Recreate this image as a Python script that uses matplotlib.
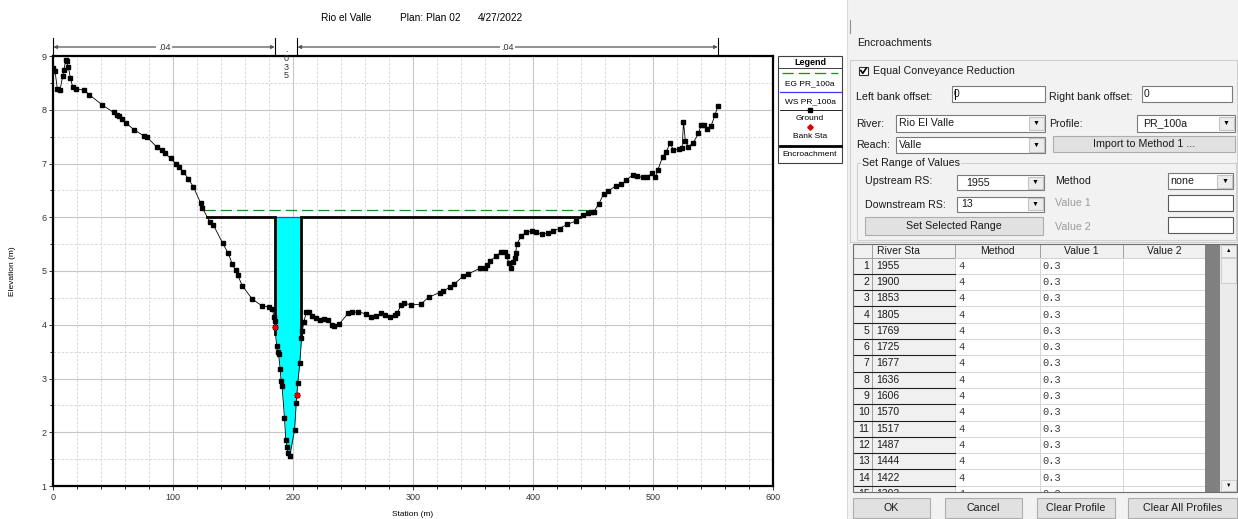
import numpy as np
import matplotlib
matplotlib.use("Agg")
import matplotlib.pyplot as plt
from matplotlib.patches import Rectangle
from matplotlib.transforms import blended_transform_factory

plt.rcParams["font.family"] = ["Liberation Sans", "DejaVu Sans"]

# ground profile (station m, elevation m)
station = [0.0, 1.4, 3.4, 5.6, 7.8, 8.9, 10.3, 11.1, 12.5, 14.2, 16.1, 18.6, 25.6, 30.0,
           40.8, 50.3, 53.3, 55.0, 57.2, 60.8, 67.2, 75.8, 77.8, 86.1, 90.3, 93.0, 97.8,
           102.0, 104.7, 108.3, 112.5, 116.7, 122.8, 124.2, 130.6, 133.4, 141.2, 145.9,
           149.2, 152.0, 153.7, 157.5, 165.8, 174.2, 180.0, 182.8, 183.9, 184.5, 184.7,
           186.4, 187.0, 187.9, 189.2, 190.0, 190.8, 192.8, 193.9, 195.0, 195.6, 197.2,
           201.2, 202.6, 203.1, 203.9, 205.6, 207.0, 207.8, 208.9, 211.1, 213.0, 215.6,
           218.9, 222.2, 225.6, 229.5, 232.2, 233.9, 238.3, 245.8, 249.4, 254.2, 261.1,
           265.3, 268.9, 273.6, 277.0, 280.6, 284.7, 286.7, 290.3, 292.2, 298.6, 306.4,
           313.0, 322.2, 325.0, 330.6, 333.9, 341.7, 345.8, 355.6, 359.7, 361.7, 364.5,
           369.5, 373.6, 376.4, 378.3, 380.0, 382.0, 383.3, 384.7, 385.6, 386.7, 390.3,
           394.5, 399.5, 402.8, 407.8, 412.5, 416.7, 422.2, 428.7, 436.1, 441.7, 445.9,
           448.6, 450.8, 455.0, 458.9, 462.5, 469.5, 473.6, 477.8, 483.4, 487.0, 491.7,
           495.0, 499.5, 502.2, 504.2, 508.3, 511.2, 514.5, 517.2, 522.2, 524.5, 525.6,
           527.2, 529.7, 533.9, 538.1, 540.3, 543.0, 545.6, 548.6, 551.9, 554.2]
elevation = [8.77, 8.73, 8.38, 8.37, 8.62, 8.74, 8.93, 8.90, 8.80, 8.60, 8.43, 8.38, 8.37, 8.28,
             8.09, 7.95, 7.90, 7.88, 7.82, 7.75, 7.63, 7.51, 7.50, 7.31, 7.25, 7.19, 7.10,
             7.00, 6.94, 6.85, 6.72, 6.57, 6.27, 6.18, 5.91, 5.86, 5.52, 5.33,
             5.13, 5.01, 4.93, 4.73, 4.48, 4.35, 4.33, 4.30, 4.14, 4.07, 3.95,
             3.60, 3.50, 3.46, 3.18, 2.96, 2.86, 2.27, 1.86, 1.73, 1.62, 1.56,
             2.04, 2.55, 2.69, 2.92, 3.29, 3.75, 3.89, 4.05, 4.24, 4.24, 4.16,
             4.12, 4.08, 4.10, 4.09, 3.99, 3.97, 4.01, 4.21, 4.23, 4.24, 4.20,
             4.14, 4.17, 4.21, 4.19, 4.14, 4.19, 4.22, 4.37, 4.40, 4.37, 4.38,
             4.51, 4.60, 4.62, 4.70, 4.75, 4.90, 4.94, 5.05, 5.05, 5.11, 5.19,
             5.28, 5.36, 5.35, 5.27, 5.14, 5.05, 5.17, 5.25, 5.34, 5.51, 5.65,
             5.73, 5.74, 5.72, 5.68, 5.71, 5.75, 5.79, 5.87, 5.93, 6.04, 6.07,
             6.09, 6.10, 6.25, 6.43, 6.48, 6.59, 6.61, 6.69, 6.79, 6.76, 6.74,
             6.75, 6.82, 6.74, 6.88, 7.13, 7.22, 7.38, 7.25, 7.27, 7.28, 7.78,
             7.41, 7.31, 7.39, 7.56, 7.72, 7.72, 7.65, 7.70, 7.90, 8.07]

bank_sta = [184.7, 203.1]
bank_elev = [3.95, 2.69]
ws_elev = 6.0
eg_elev = 6.13
encr_sta = [185.3, 207.0]
mann_sta = [0.0, 184.7, 203.6, 554.2]
mann_n = [".04", ".035", ".04"]

# encroachment editor table
row_no = ["1", "2", "3", "4", "5", "6", "7", "8", "9", "10", "11", "12", "13", "14", "15"]
river_sta = ["1955", "1900", "1853", "1805", "1769", "1725", "1677", "1636", "1606",
             "1570", "1517", "1487", "1444", "1422", "1393"]
method = ["4", "4", "4", "4", "4", "4", "4", "4", "4", "4", "4", "4", "4", "4", "4"]
value1 = ["0.3", "0.3", "0.3", "0.3", "0.3", "0.3", "0.3", "0.3", "0.3", "0.3", "0.3",
          "0.3", "0.3", "0.3", "0.3"]

W, H = 1238, 519
fig = plt.figure(figsize=(W / 100, H / 100), dpi=100)
fig.patch.set_facecolor("white")

ax = fig.add_axes([53.3 / W, 1 - 486 / H, (772.7 - 53.3) / W, 430 / H])
ax.set_xlim(0, 600)
ax.set_ylim(1, 9)
ax.set_xticks(np.arange(0, 601, 100))
ax.set_xticks(np.arange(0, 601, 20), minor=True)
ax.set_yticks(np.arange(1, 10, 1))
ax.set_yticks(np.arange(1, 9.01, 0.5), minor=True)
ax.grid(which="major", color="#c6c6c6", lw=0.8)
ax.grid(which="minor", color="#d2d2d2", lw=0.6, ls=(0, (3, 2)))
ax.set_axisbelow(True)
for sp in ax.spines.values():
    sp.set_linewidth(1.6)
ax.tick_params(labelsize=6.5, length=3, width=0.7, pad=2, colors="#333333")
ax.tick_params(which="minor", length=2, width=0.6)

# overlay in pixel units for the texts around the chart and the dialog
ov = fig.add_axes([0, 0, 1, 1])
ov.set_xlim(0, W)
ov.set_ylim(H, 0)
ov.set_autoscale_on(False)
ov.axis("off")
ov.set_zorder(2)

sta = np.array(station)
elev = np.array(elevation)


def crossings(level):
    xs = []
    for i in range(len(sta) - 1):
        e0, e1 = elev[i], elev[i + 1]
        if (e0 - level) * (e1 - level) <= 0 and e0 != e1:
            xs.append(sta[i] + (level - e0) * (sta[i + 1] - sta[i]) / (e1 - e0))
    return xs[0], xs[-1]


# water between the encroachments
inside = (sta > encr_sta[0]) & (sta < encr_sta[1])
wx = np.concatenate([[encr_sta[0]], sta[inside], [encr_sta[1]]])
wy = np.interp(wx, sta, elev)
ax.fill_between(wx, wy, ws_elev, color="#00ffff", lw=0, zorder=2)
ax.plot(encr_sta, [ws_elev, ws_elev], color="#3a3aff", lw=0.9, zorder=2.5)

eg_l, eg_r = crossings(eg_elev)
ax.plot([eg_l, eg_r], [eg_elev, eg_elev], color="#1e8c1e", lw=0.9,
        ls=(0, (9, 4)), zorder=2.5)

ax.plot(sta, elev, color="black", lw=0.6, marker="s", ms=3.2, zorder=3)

ws_l, ws_r = crossings(ws_elev)
g_l = np.interp(encr_sta[0], sta, elev)
g_r = np.interp(encr_sta[1], sta, elev)
ax.plot([ws_l, encr_sta[0], encr_sta[0]], [ws_elev, ws_elev, g_l], color="black",
        lw=2.0, zorder=4, solid_joinstyle="miter")
ax.plot([encr_sta[1], encr_sta[1], ws_r], [g_r, ws_elev, ws_elev], color="black",
        lw=2.0, zorder=4, solid_joinstyle="miter")

ax.plot(bank_sta, bank_elev, ls="none", marker="D", ms=2.8, color="#e00000", zorder=5)

# titles and axis labels
ov.text(321, 18, "Rio el Valle", fontsize=7.3, va="center")
ov.text(400, 18, "Plan: Plan 02", fontsize=7.3, va="center")
ov.text(478, 18, "4/27/2022", fontsize=7.3, va="center")
ov.text(413, 514, "Station (m)", fontsize=6, ha="center", va="center")
ov.text(13, 271, "Elevation (m)", fontsize=6, ha="center", va="center", rotation=90)

# manning's n bars above the plot
tr = blended_transform_factory(ax.transData, ov.transData)
for s in mann_sta:
    ov.plot([s, s], [38, 56], transform=tr, color="black", lw=0.8, clip_on=False)
for k, n in enumerate(mann_n):
    a, b = mann_sta[k], mann_sta[k + 1]
    m = (a + b) / 2
    if k == 1:
        ov.text(m, 51.5, ".", transform=tr, fontsize=6.5, ha="center", va="baseline",
                color="#333333")
        for j, ch in enumerate(n[1:]):
            ov.text(m, 58.6 + j * 8.6, ch, transform=tr, fontsize=6.5, ha="center",
                    va="center", color="#333333")
        continue
    for end in (a, b):
        ov.annotate("", xy=(end, 47), xytext=(m, 47), xycoords=tr, textcoords=tr,
                    arrowprops=dict(arrowstyle="-|>", color="#555555", lw=0.9,
                                    mutation_scale=5, shrinkA=0, shrinkB=0))
    ov.text(m, 47.5, n, transform=tr, fontsize=6.5, ha="center", va="center",
            color="#333333", bbox=dict(fc="white", ec="none", pad=1.2))

# legend box
ov.add_patch(Rectangle((778.3, 56), 63.4, 106.7, fc="white", ec="#404040", lw=0.8, zorder=3))
ov.text(810, 62.5, "Legend", fontsize=6.5, fontweight="bold", ha="center", va="center", zorder=4)
ov.plot([778.3, 841.7], [68.3, 68.3], color="#404040", lw=0.7, zorder=4)
ov.plot([781.7, 838], [73.3, 73.3], color="#1e8c1e", lw=0.9, ls=(0, (9, 4)), zorder=4)
ov.text(810, 83.3, "EG PR_100a", fontsize=6, ha="center", va="center", zorder=4)
ov.plot([779.5, 840.5], [91.7, 91.7], color="#3a3aff", lw=0.9, zorder=4)
ov.text(810, 101.7, "WS PR_100a", fontsize=6, ha="center", va="center", zorder=4)
ov.plot([779.5, 840.5], [110, 110], color="black", lw=0.6, zorder=4)
ov.plot([810], [110], marker="s", ms=3.2, color="black", zorder=4)
ov.text(810, 118.3, "Ground", fontsize=6, ha="center", va="center", zorder=4)
ov.plot([810], [126.7], marker="D", ms=2.8, color="#e00000", zorder=4)
ov.text(810, 136, "Bank Sta", fontsize=6, ha="center", va="center", zorder=4)
ov.plot([779.5, 840.5], [145.7, 145.7], color="black", lw=2.0, zorder=4)
ov.text(810, 154, "Encroachment", fontsize=6, ha="center", va="center", zorder=4)

# ---------------- encroachment dialog ----------------
BG = "#f2f2f2"
FS = 7.7


def box(x0, y0, x1, y1, fc="white", ec="#a0a0a0", lw=0.8, z=2):
    ov.add_patch(Rectangle((x0, y0), x1 - x0, y1 - y0, facecolor=fc, edgecolor=ec,
                           linewidth=lw, zorder=z))


def label(x, y, s, size=FS, color="#1a1a1a", ha="left", z=3, **kw):
    ov.text(x, y, s, fontsize=size, color=color, ha=ha, va="center", zorder=z, **kw)


def combo(x0, y0, x1, y1, s, tx):
    box(x0, y0, x1, y1, fc="white", ec="#7a7a7a")
    box(x1 - 16, y0 + 1.5, x1 - 1.5, y1 - 1.5, fc="#ececec", ec="#c4c4c4")
    ov.text(x1 - 8.7, (y0 + y1) / 2, "\u25bc", fontsize=5, ha="center", va="center", zorder=3)
    label(tx, (y0 + y1) / 2, s)


def button(x0, y0, x1, y1, s, z=2):
    box(x0, y0, x1, y1, fc="#e1e1e1", ec="#adadad", z=z)
    label((x0 + x1) / 2, (y0 + y1) / 2, s, ha="center", z=z + 1)


box(847, -1, W + 1, H + 1, fc=BG, ec="none", z=1)
ov.plot([847, 847], [0, H], color="#dcdcdc", lw=0.8, zorder=1.5)
ov.plot([850, 850], [20, 33], color="#909090", lw=0.8, zorder=2)
label(856.7, 43.5, "Encroachments")

# outer frame
box(850, 60, 1237, 242, fc="none", ec="#cfcfcf", lw=0.8)
box(859.3, 66.7, 867.5, 75, fc="white", ec="#333333", lw=0.8)
ov.plot([860.8, 862.8, 866.2], [70.5, 73.3, 68.2], color="black", lw=1.2, zorder=3)
label(873.3, 71.2, "Equal Conveyance Reduction")

label(856, 96.5, "Left bank offset:")
box(951.7, 86, 1045, 101.7, fc="white", ec="#7a7a7a")
ov.plot([955, 955], [89, 99], color="black", lw=0.8, zorder=3)
label(954, 94, "0", size=7.5)
label(1049.3, 96.5, "Right bank offset:")
box(1141.7, 86, 1232, 101.7, fc="white", ec="#7a7a7a")
label(1143.5, 94, "0", size=7.5)

label(856, 124, "River:")
combo(896, 115, 1045, 131.7, "Rio El Valle", 899)
label(1049.3, 124, "Profile:")
combo(1136.7, 115, 1235, 131.7, "PR_100a", 1143)
label(856, 145, "Reach:")
combo(896, 136.7, 1045, 153.3, "Valle", 899)
button(1053.3, 136, 1235, 151.7, "Import to Method 1 ...")

box(857.3, 163.3, 1236, 240, fc="none", ec="#cfcfcf", lw=0.8)
label(862, 163.3, "Set Range of Values", bbox=dict(fc=BG, ec="none", pad=0.5))
label(865, 181.5, "Upstream RS:")
combo(956.7, 175, 1044, 190, "1955", 966.7)
label(1055, 180.5, "Method")
combo(1168.3, 173.3, 1233.3, 189.3, "none", 1170.5)
label(865, 204.5, "Downstream RS:")
combo(956.7, 196.7, 1044, 211.7, "13", 961.7)
label(1055, 203.5, "Value 1", color="#9a9a9a")
box(1168.3, 195, 1233.3, 211, fc="white", ec="#5a5a5a")
button(865, 216.7, 1043.3, 235, "Set Selected Range")
label(1055, 227, "Value 2", color="#9a9a9a")
box(1168.3, 216.7, 1233.3, 232.5, fc="white", ec="#5a5a5a")

# table
cols = [852.7, 871.7, 955, 1040, 1122.7, 1205]
head_top, head_bot, row_h, tab_bot = 244, 257.5, 16.3, 491.5
for c0, c1 in zip(cols[:-1], cols[1:]):
    box(c0, head_top, c1, head_bot, fc="#f0f0f0", ec="#a0a0a0", lw=0.7)
label(876.7, 250.8, "River Sta", size=7.5)
label((cols[2] + cols[3]) / 2, 250.8, "Method", size=7.5, ha="center")
label((cols[3] + cols[4]) / 2, 250.8, "Value 1", size=7.5, ha="center")
label((cols[4] + cols[5]) / 2, 250.8, "Value 2", size=7.5, ha="center")
for i in range(len(river_sta)):
    y0 = head_bot + i * row_h
    y1 = y0 + row_h
    yc = (y0 + y1) / 2
    box(cols[0], y0, cols[1], y1, fc="#f0f0f0", ec="#a0a0a0", lw=0.7)
    box(cols[1], y0, cols[2], y1, fc="#f0f0f0", ec="#a0a0a0", lw=0.7)
    ov.plot([cols[0], cols[2]], [y1, y1], color="#202020", lw=0.8, zorder=2.5)
    for c0, c1 in zip(cols[2:-1], cols[3:]):
        box(c0, y0, c1, y1, fc="white", ec="#d4d4d4", lw=0.6)
    label(869.5, yc, row_no[i], size=7.5, ha="right")
    label(876.7, yc, river_sta[i], size=7.5)
    label(958.5, yc, method[i], size=7.5, family="Liberation Mono", color="#3a3a3a")
    label(1042.5, yc, value1[i], size=7.5, family="Liberation Mono", color="#3a3a3a")
# hide whatever of the last row falls below the grid
box(847.5, tab_bot + 0.4, W + 1, H + 1, fc=BG, ec="none", z=4)
box(1205, head_top, 1220, tab_bot, fc="#808080", ec="none", z=4)
box(1220, head_top, 1236.7, tab_bot, fc="#ebebeb", ec="none", z=4)
box(1220.5, head_top + 0.5, 1236.2, 256.7, fc="#f0f0f0", ec="#c8c8c8", lw=0.6, z=4.5)
box(1220.5, 258, 1236.2, 283, fc="#f0f0f0", ec="#c8c8c8", lw=0.6, z=4.5)
box(1220.5, 479.5, 1236.2, tab_bot - 0.5, fc="#f0f0f0", ec="#c8c8c8", lw=0.6, z=4.5)
ov.text(1228.4, 250.5, "\u25b2", fontsize=4, ha="center", va="center", zorder=5)
ov.text(1228.4, 485.5, "\u25bc", fontsize=4, ha="center", va="center", zorder=5)
box(cols[0], head_top, 1236.7, tab_bot, fc="none", ec="#6e6e6e", lw=0.8, z=5)

button(853.3, 498, 930, 518, "OK", z=6)
button(945, 498, 1021.7, 518, "Cancel", z=6)
button(1036.7, 498, 1115, 518, "Clear Profile", z=6)
button(1128.3, 498, 1237, 518, "Clear All Profiles", z=6)

fig.savefig("out.png", dpi=100)
